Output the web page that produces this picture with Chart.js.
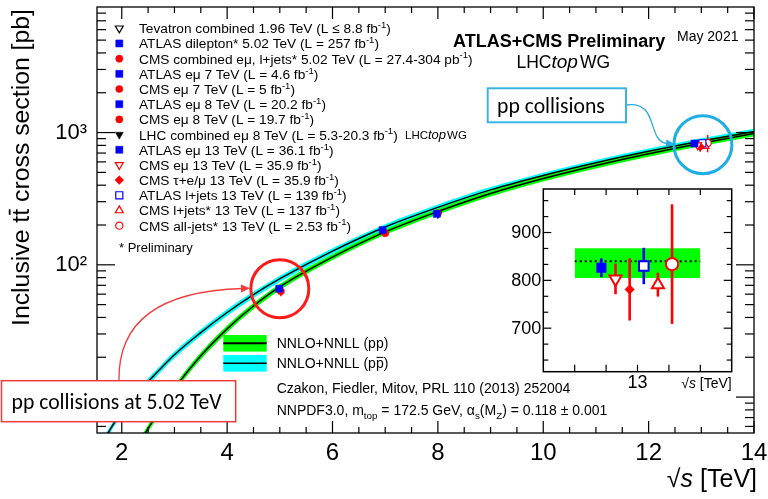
<!DOCTYPE html>
<html>
<head>
<meta charset="utf-8">
<title>Inclusive ttbar cross section</title>
<script src="https://cdn.jsdelivr.net/npm/chart.js@4.4.1/dist/chart.umd.min.js"></script>
<style>
  html, body { margin:0; padding:0; background:#ffffff; }
  #wrap { position:relative; width:768px; height:499px; overflow:hidden; background:#fff; }
  canvas { position:absolute; }
  #main { left:0; top:0; }
  #inset { left:500px; top:180px; }
</style>
</head>
<body>
<div id="wrap">
  <canvas id="main" width="768" height="499"></canvas>
  <canvas id="inset" width="260" height="215"></canvas>
</div>
<script>
// ===================== DATA =====================
const seriesLabels = [
  'Tevatron combined 1.96 TeV (L ≤ 8.8 fb^{-1})',
  'ATLAS dilepton* 5.02 TeV (L = 257 fb^{-1})',
  'CMS combined eμ, l+jets* 5.02 TeV (L = 27.4-304 pb^{-1})',
  'ATLAS eμ 7 TeV (L = 4.6 fb^{-1})',
  'CMS eμ 7 TeV (L = 5 fb^{-1})',
  'ATLAS eμ 8 TeV (L = 20.2 fb^{-1})',
  'CMS eμ 8 TeV (L = 19.7 fb^{-1})',
  'LHC combined eμ 8 TeV (L = 5.3-20.3 fb^{-1})',
  'ATLAS eμ 13 TeV (L = 36.1 fb^{-1})',
  'CMS eμ 13 TeV (L = 35.9 fb^{-1})',
  'CMS τ+e/μ 13 TeV (L = 35.9 fb^{-1})',
  'ATLAS l+jets 13 TeV (L = 139 fb^{-1})',
  'CMS l+jets* 13 TeV (L = 137 fb^{-1})',
  'CMS all-jets* 13 TeV (L = 2.53 fb^{-1})'
];
const energy  = [1.96, 5.02, 5.02, 7, 7, 8, 8, 8, 13, 13, 13, 13, 13, 13];
const xsec    = [7.60, 66.0, 63.0, 182.9, 173.6, 242.9, 244.9, 241.5, 826.4, 803, 781, 830, 791, 834];
const xsecErr = [0.41, 1.7, 5.1, 7.1, 6.4, 8.8, 9.3, 8.5, 19.6, 32, 65, 38, 25, 125];

// 13 TeV subset shown in the inset (indices into the arrays above)
const insetSeries = [8, 9, 10, 11, 12, 13];

// Theory NNLO+NNLL
const ppEnergy = [2.3, 2.6, 3.0, 3.5, 4.0, 4.5, 5.02, 6, 7, 8, 9, 10, 11, 12, 13, 14];
const ppXsec   = [4.3, 6.7, 11.6, 20.5, 32.8, 48.8, 68.9, 114.3, 177.3, 252.9, 346, 449, 564, 692, 831.8, 984.5];
const ppUncPct = [6, 6, 6, 6, 6, 5.5, 5.5, 5, 5, 5, 5, 5, 5, 5, 5, 5];
const ppbarEnergy = [1.55, 1.74, 1.96, 2.3, 2.6, 3.0, 3.5, 4.0, 4.5, 5.02, 6, 7, 8, 9, 10, 11, 12, 13, 14];
const ppbarXsec   = [3.9, 5.35, 7.35, 10.75, 14.4, 20.9, 30.75, 43.6, 59.5, 79.2, 126.9, 193.3, 271.9, 368.5, 473.7, 591, 721, 862.6, 1017];
const ppbarUncPct = [6, 6, 6, 6, 6, 6, 6, 6, 5.5, 5.5, 5, 5, 5, 5, 5, 5, 5, 5, 5];

// Theory band at 13 TeV in the inset
const theory13Central = 840;
const theory13Low = 805;
const theory13High = 867;
const theory13Range = [12.6, 13.4];

// Tick labels
const xTickValues = [2, 4, 6, 8, 10, 12, 14];
const yTickValues = [100, 1000];
const yTickLabels = ['10²', '10³'];
const insetYTickValues = [700, 800, 900];
const insetYTickLabels = ['700', '800', '900'];
const insetXTickValues = [13];
const insetXTickLabels = ['13'];

const theoryLabels = ['NNLO+NNLL (pp)', 'NNLO+NNLL (p~{p})'];
const theoryNotes = ['Czakon, Fiedler, Mitov, PRL 110 (2013) 252004',
                     'NNPDF3.0, m_{top} = 172.5 GeV, α_{s}(M_{Z}) = 0.118 ± 0.001'];

// ===================== STYLE / LAYOUT =====================
const FONT = "'Liberation Sans', Arial, Helvetica, sans-serif";
const BOXFONT = "Carlito, Lato, 'Open Sans', sans-serif";
const BLUE = '#0000ff', RED = '#ff0000', BLACK = '#000000';
const GREEN = '#00ff00', CYAN = '#00ffff';
const xMin = 1.53, xMax = 14, yMin = 5.35, yMax = 8900;
const displayShift = [0, -0.03, 0, -0.05, 0, -0.02, 0, 0, -0.13, -0.07, -0.02, 0.02, 0.07, 0.12];
const insetX = [12.77, 12.86, 12.95, 13.04, 13.13, 13.22];

const markerStyle = [
  {ps:'triangle', rot:180, fill:false, col:BLACK},
  {ps:'rect',     rot:0,   fill:true,  col:BLUE},
  {ps:'circle',   rot:0,   fill:true,  col:RED},
  {ps:'rect',     rot:0,   fill:true,  col:BLUE},
  {ps:'circle',   rot:0,   fill:true,  col:RED},
  {ps:'rect',     rot:0,   fill:true,  col:BLUE},
  {ps:'circle',   rot:0,   fill:true,  col:RED},
  {ps:'triangle', rot:180, fill:true,  col:BLACK},
  {ps:'rect',     rot:0,   fill:true,  col:BLUE},
  {ps:'triangle', rot:180, fill:false, col:RED},
  {ps:'rectRot',  rot:0,   fill:true,  col:RED},
  {ps:'rect',     rot:0,   fill:false, col:BLUE},
  {ps:'triangle', rot:0,   fill:false, col:RED},
  {ps:'circle',   rot:0,   fill:false, col:RED}
];
const smallRadius = {rect:5, circle:3.6, triangle:4.6, rectRot:4.4};
const insetRadius = {rect:6.8, circle:6.2, triangle:7, rectRot:4.8};

// ===================== HELPERS =====================
function drawRich(ctx, str, x, y, size, opts) {
  opts = opts || {};
  const family = opts.family || FONT;
  const weight = opts.weight || 'normal';
  const parts = str.split(/(\^\{[^}]*\}|_\{[^}]*\}|~\{[^}]*\}|#it\{[^}]*\})/);
  let cx = x;
  ctx.textBaseline = 'alphabetic';
  ctx.textAlign = 'left';
  for (const p of parts) {
    if (!p) continue;
    let s = size, dy = 0, t = p, style = 'normal', bar = false;
    if (p.startsWith('^{')) { t = p.slice(2, -1); s = size * 0.7; dy = -size * 0.38; }
    else if (p.startsWith('_{')) { t = p.slice(2, -1); s = size * 0.7; dy = size * 0.3; }
    else if (p.startsWith('~{')) { t = p.slice(2, -1); bar = true; }
    else if (p.startsWith('#it{')) { t = p.slice(4, -1); style = 'italic'; }
    ctx.font = style + ' ' + weight + ' ' + s + 'px ' + family;
    ctx.fillText(t, cx, y + dy);
    const w = ctx.measureText(t).width;
    if (bar) {
      ctx.save();
      ctx.strokeStyle = ctx.fillStyle;
      ctx.lineWidth = Math.max(1, size * 0.07);
      ctx.beginPath();
      ctx.moveTo(cx + size * 0.04, y - size * 0.78);
      ctx.lineTo(cx + w - size * 0.02, y - size * 0.78);
      ctx.stroke();
      ctx.restore();
    }
    cx += w;
  }
  return cx - x;
}

function drawMarker(ctx, st, r, x, y, lw) {
  ctx.save();
  ctx.fillStyle = st.fill ? st.col : '#ffffff';
  ctx.strokeStyle = st.col;
  ctx.lineWidth = lw;
  ctx.beginPath();
  if (st.ps === 'rect') {
    const h = r * Math.SQRT1_2;
    ctx.rect(x - h, y - h, 2 * h, 2 * h);
  } else if (st.ps === 'circle') {
    ctx.arc(x, y, r, 0, Math.PI * 2);
  } else if (st.ps === 'rectRot') {
    ctx.moveTo(x, y - r); ctx.lineTo(x + r, y); ctx.lineTo(x, y + r); ctx.lineTo(x - r, y); ctx.closePath();
  } else if (st.ps === 'triangle') {
    const sgn = st.rot === 180 ? -1 : 1;
    ctx.moveTo(x, y - sgn * r);
    ctx.lineTo(x + r * Math.sin(Math.PI * 2 / 3), y + sgn * r * 0.5);
    ctx.lineTo(x - r * Math.sin(Math.PI * 2 / 3), y + sgn * r * 0.5);
    ctx.closePath();
  }
  ctx.fill();
  ctx.stroke();
  ctx.restore();
}

function lineSeg(ctx, x1, y1, x2, y2) {
  ctx.beginPath(); ctx.moveTo(x1, y1); ctx.lineTo(x2, y2); ctx.stroke();
}

function sqrtS(ctx, xRight, baseline, size) {
  ctx.save();
  ctx.fillStyle = '#000';
  ctx.font = 'normal ' + size + 'px ' + FONT;
  const wRad = ctx.measureText('√').width;
  const wTail = ctx.measureText(' [TeV]').width;
  ctx.font = 'italic ' + size + 'px ' + FONT;
  const wS = ctx.measureText('s').width;
  const x0 = xRight - wRad - wS - wTail;
  ctx.textBaseline = 'alphabetic'; ctx.textAlign = 'left';
  ctx.font = 'normal ' + size + 'px ' + FONT;
  ctx.fillText('√', x0, baseline);
  ctx.font = 'italic ' + size + 'px ' + FONT;
  ctx.fillText('s', x0 + wRad, baseline);
  ctx.font = 'normal ' + size + 'px ' + FONT;
  ctx.fillText(' [TeV]', x0 + wRad + wS, baseline);
  ctx.restore();
}

function arrowHead(ctx, tipX, tipY, fromX, fromY, len, half) {
  const a = Math.atan2(tipY - fromY, tipX - fromX);
  ctx.beginPath();
  ctx.moveTo(tipX, tipY);
  ctx.lineTo(tipX - len * Math.cos(a) + half * Math.sin(a), tipY - len * Math.sin(a) - half * Math.cos(a));
  ctx.lineTo(tipX - len * Math.cos(a) - half * Math.sin(a), tipY - len * Math.sin(a) + half * Math.cos(a));
  ctx.closePath();
  ctx.fill();
}

// ===================== MAIN CHART =====================
const pointDatasets = seriesLabels.map((lab, i) => {
  const st = markerStyle[i];
  return {
    label: lab,
    data: [{x: energy[i] + displayShift[i], y: xsec[i]}],
    showLine: false,
    pointStyle: st.ps,
    pointRotation: st.rot,
    pointRadius: smallRadius[st.ps],
    pointBackgroundColor: st.fill ? st.col : '#ffffff',
    pointBorderColor: st.col,
    pointBorderWidth: st.fill ? 0.5 : 1.2,
    order: 0,
    errIndex: i
  };
});

const mk = (xs, ys, f) => xs.map((x, k) => ({x: x, y: f(ys[k], k)}));
const theoryDatasets = [
  {label:'ppbarUp', data: mk(ppbarEnergy, ppbarXsec, (v,k)=>v*(1+ppbarUncPct[k]/100)), fill:'+1',
   backgroundColor: CYAN, borderColor:'rgba(0,0,0,0)', borderWidth:0, pointRadius:0, cubicInterpolationMode:'monotone', order:14, clip:0},
  {label:'ppbarDown', data: mk(ppbarEnergy, ppbarXsec, (v,k)=>v*(1-ppbarUncPct[k]/100)), fill:false,
   borderColor:'rgba(0,0,0,0)', borderWidth:0, pointRadius:0, cubicInterpolationMode:'monotone', order:14, clip:0},
  {label:'ppUp', data: mk(ppEnergy, ppXsec, (v,k)=>v*(1+ppUncPct[k]/100)), fill:'+1',
   backgroundColor: GREEN, borderColor:'rgba(0,0,0,0)', borderWidth:0, pointRadius:0, cubicInterpolationMode:'monotone', order:13, clip:0},
  {label:'ppDown', data: mk(ppEnergy, ppXsec, (v,k)=>v*(1-ppUncPct[k]/100)), fill:false,
   borderColor:'rgba(0,0,0,0)', borderWidth:0, pointRadius:0, cubicInterpolationMode:'monotone', order:13, clip:0},
  {label:'ppbar', data: mk(ppbarEnergy, ppbarXsec, v=>v), fill:false,
   borderColor: BLACK, borderWidth:1.5, pointRadius:0, cubicInterpolationMode:'monotone', order:12, clip:0},
  {label:'pp', data: mk(ppEnergy, ppXsec, v=>v), fill:false,
   borderColor: BLACK, borderWidth:1.5, pointRadius:0, cubicInterpolationMode:'monotone', order:11, clip:0}
];

const mainDecor = {
  id: 'mainDecor',
  beforeDatasetDraw(chart, args) {
    const ds = chart.data.datasets[args.index];
    if (ds.errIndex === undefined) return;
    const i = ds.errIndex, xs = chart.scales.x, ys = chart.scales.y, ctx = chart.ctx, a = chart.chartArea;
    const px = xs.getPixelForValue(ds.data[0].x);
    ctx.save();
    ctx.beginPath(); ctx.rect(a.left, a.top, a.right - a.left, a.bottom - a.top); ctx.clip();
    ctx.strokeStyle = markerStyle[i].col; ctx.lineWidth = 1.4;
    lineSeg(ctx, px, ys.getPixelForValue(xsec[i] - xsecErr[i]), px, ys.getPixelForValue(xsec[i] + xsecErr[i]));
    ctx.restore();
  },
  afterDatasetsDraw(chart) {
    const ctx = chart.ctx, a = chart.chartArea, xs = chart.scales.x, ys = chart.scales.y;
    ctx.save();
    ctx.strokeStyle = '#000'; ctx.lineWidth = 1.3;
    ctx.strokeRect(a.left, a.top, a.right - a.left, a.bottom - a.top);
    ctx.lineWidth = 1.2;
    for (let v = 2; v <= 14.001; v += 0.5) {
      const px = xs.getPixelForValue(v);
      const len = (Math.abs(v % 2) < 1e-6) ? 12 : 6;
      lineSeg(ctx, px, a.bottom, px, a.bottom - len);
      lineSeg(ctx, px, a.top, px, a.top + len);
    }
    for (const d of [1, 10, 100, 1000]) {
      for (let k = 1; k <= 9; k++) {
        const v = k * d;
        if (v < yMin || v > yMax) continue;
        const py = ys.getPixelForValue(v);
        const len = k === 1 ? 18 : 9;
        lineSeg(ctx, a.left, py, a.left + len, py);
        lineSeg(ctx, a.right, py, a.right - len, py);
      }
    }
    ctx.restore();
  },
  afterDraw(chart) {
    const ctx = chart.ctx, xs = chart.scales.x, ys = chart.scales.y;
    ctx.save();
    ctx.fillStyle = '#000';
    // Axis titles
    ctx.save();
    ctx.translate(29, 326);
    ctx.rotate(-Math.PI / 2);
    drawRich(ctx, 'Inclusive t~{t} cross section [pb]', 0, 0, 24.8);
    ctx.restore();
    sqrtS(ctx, 757, 487, 25);

    // Data legend
    for (let i = 0; i < seriesLabels.length; i++) {
      const ry = 28.3 + 15.18 * i;
      const st = markerStyle[i];
      drawMarker(ctx, st, smallRadius[st.ps], 119.3, ry, st.fill ? 0.5 : 1.2);
      ctx.fillStyle = '#000';
      drawRich(ctx, seriesLabels[i], 139, ry + 5, 13.7);
    }
    const ryL = 28.3 + 15.18 * 7 + 4.5;
    let w = drawRich(ctx, 'LHC', 405, ryL, 11.5);
    w += drawRich(ctx, '#it{top}', 405 + w, ryL, 13);
    drawRich(ctx, 'WG', 405 + w + 1, ryL, 11.5);
    drawRich(ctx, '* Preliminary', 119, 251.5, 13);

    // Header
    drawRich(ctx, 'ATLAS+CMS Preliminary', 453, 46.5, 18, {weight:'bold'});
    drawRich(ctx, 'May 2021', 677, 41, 14);
    let w2 = drawRich(ctx, 'LHC', 516.5, 68, 17.5);
    w2 += drawRich(ctx, '#it{top}', 516.5 + w2, 68, 19);
    drawRich(ctx, 'WG', 516.5 + w2 + 2, 68, 17.5);

    // Theory legend
    const boxes = [[GREEN, 343.3], [CYAN, 363.3]];
    boxes.forEach((b, k) => {
      ctx.fillStyle = b[0];
      ctx.fillRect(223.3, b[1] - 8.3, 43.4, 16.6);
      ctx.strokeStyle = '#000'; ctx.lineWidth = k === 0 ? 2 : 1.5;
      lineSeg(ctx, 223.3, b[1], 266.7, b[1]);
      ctx.fillStyle = '#000';
      drawRich(ctx, theoryLabels[k], 276.7, b[1] + 5, 14);
    });
    drawRich(ctx, theoryNotes[0], 276.7, 393.3, 14);
    drawRich(ctx, theoryNotes[1], 276.7, 415, 14);

    // ---------- annotations ----------
    ctx.strokeStyle = '#ff1a1a'; ctx.lineWidth = 3;
    ctx.beginPath();
    ctx.arc(xs.getPixelForValue(5.0), ys.getPixelForValue(66), 29, 0, Math.PI * 2);
    ctx.stroke();
    ctx.strokeStyle = '#1eaee6'; ctx.lineWidth = 3;
    ctx.beginPath();
    ctx.arc(xs.getPixelForValue(13.03), ys.getPixelForValue(810), 29, 0, Math.PI * 2);
    ctx.stroke();

    // red connector + box
    ctx.strokeStyle = '#f03c3c'; ctx.fillStyle = '#f03c3c'; ctx.lineWidth = 1.3;
    ctx.beginPath(); ctx.moveTo(119, 381); ctx.quadraticCurveTo(117, 292, 243, 288.5); ctx.stroke();
    arrowHead(ctx, 250, 288.3, 230, 288.8, 9, 4);
    ctx.fillStyle = '#ffffff';
    ctx.fillRect(1.5, 380.7, 234.2, 41);
    ctx.strokeStyle = '#ee3b3b'; ctx.lineWidth = 1.5;
    ctx.strokeRect(1.5, 380.7, 234.2, 41);
    ctx.fillStyle = '#000';
    drawRich(ctx, 'pp collisions at 5.02 TeV', 11.5, 408.5, 21.7, {family: BOXFONT});

    // cyan connector + box
    ctx.strokeStyle = '#29abe2'; ctx.fillStyle = '#29abe2'; ctx.lineWidth = 1.3;
    ctx.beginPath(); ctx.moveTo(626, 105); ctx.bezierCurveTo(660, 100, 646, 141, 667, 143.5); ctx.stroke();
    arrowHead(ctx, 675, 144.5, 662, 143, 9, 4);
    ctx.fillStyle = '#ffffff';
    ctx.fillRect(487.7, 88.3, 138.3, 34);
    ctx.strokeStyle = '#3ab4e6'; ctx.lineWidth = 2;
    ctx.strokeRect(487.7, 88.3, 138.3, 34);
    ctx.fillStyle = '#000';
    drawRich(ctx, 'pp collisions', 497, 113, 21.7, {family: BOXFONT});
    ctx.restore();
  }
};

const mainChart = new Chart(document.getElementById('main'), {
  type: 'line',
  data: { datasets: pointDatasets.concat(theoryDatasets) },
  options: {
    responsive: false,
    animation: false,
    devicePixelRatio: 1,
    layout: { padding: { left: 0, right: 14, top: 7, bottom: 0 } },
    plugins: { legend: { display: false }, tooltip: { enabled: false } },
    scales: {
      x: {
        type: 'linear', min: xMin, max: xMax,
        grid: { display: false, drawTicks: false },
        border: { display: false },
        afterBuildTicks: s => { s.ticks = xTickValues.map(v => ({ value: v })); },
        ticks: { autoSkip: false, maxRotation: 0, color: '#000', padding: 6,
                 font: { family: FONT, size: 24 }, callback: v => String(v) },
        afterFit: s => { s.height = 66; s.paddingLeft = 0; s.paddingRight = 0; }
      },
      y: {
        type: 'logarithmic', min: yMin, max: yMax,
        grid: { display: false, drawTicks: false },
        border: { display: false },
        afterBuildTicks: s => { s.ticks = yTickValues.map(v => ({ value: v })); },
        ticks: { autoSkip: false, color: '#000', padding: 10,
                 font: { family: FONT, size: 22 },
                 callback: v => { const k = yTickValues.indexOf(v); return k >= 0 ? yTickLabels[k] : ''; } },
        afterFit: s => { s.width = 97; s.paddingTop = 0; s.paddingBottom = 0; }
      }
    }
  },
  plugins: [mainDecor]
});

// ===================== INSET CHART =====================
const insetPointDatasets = insetSeries.map((idx, j) => {
  const st = markerStyle[idx];
  return {
    label: seriesLabels[idx],
    data: [{ x: insetX[j], y: xsec[idx] }],
    showLine: false,
    pointStyle: st.ps,
    pointRotation: st.rot,
    pointRadius: insetRadius[st.ps],
    pointBackgroundColor: st.fill ? st.col : '#ffffff',
    pointBorderColor: st.col,
    pointBorderWidth: st.fill ? 0.5 : 2,
    order: 0,
    errIndex: idx
  };
});
const insetTheory = [
  { label:'bandHigh', data: theory13Range.map(x => ({x: x, y: theory13High})), fill:'+1', backgroundColor: GREEN,
    borderColor:'rgba(0,0,0,0)', borderWidth:0, pointRadius:0, order:5 },
  { label:'bandLow', data: theory13Range.map(x => ({x: x, y: theory13Low})), fill:false,
    borderColor:'rgba(0,0,0,0)', borderWidth:0, pointRadius:0, order:5 },
  { label:'central', data: theory13Range.map(x => ({x: x, y: theory13Central})), fill:false,
    borderColor: BLACK, borderWidth:2, borderDash:[2, 3], pointRadius:0, order:4 }
];

const insetDecor = {
  id: 'insetDecor',
  beforeDraw(chart) {
    const ctx = chart.ctx, a = chart.chartArea;
    ctx.save(); ctx.fillStyle = '#fff'; ctx.fillRect(a.left, a.top, a.right - a.left, a.bottom - a.top); ctx.restore();
  },
  beforeDatasetDraw(chart, args) {
    const ds = chart.data.datasets[args.index];
    if (ds.errIndex === undefined) return;
    const i = ds.errIndex, xs = chart.scales.x, ys = chart.scales.y, ctx = chart.ctx;
    const px = xs.getPixelForValue(ds.data[0].x);
    ctx.save();
    ctx.strokeStyle = markerStyle[i].col; ctx.lineWidth = 2.6;
    lineSeg(ctx, px, ys.getPixelForValue(xsec[i] - xsecErr[i]), px, ys.getPixelForValue(xsec[i] + xsecErr[i]));
    ctx.restore();
  },
  afterDraw(chart) {
    const ctx = chart.ctx, a = chart.chartArea, xs = chart.scales.x, ys = chart.scales.y;
    ctx.save();
    ctx.strokeStyle = '#000'; ctx.lineWidth = 1.5;
    ctx.strokeRect(a.left, a.top, a.right - a.left, a.bottom - a.top);
    ctx.lineWidth = 1.2;
    for (let k = 0; k <= 12; k++) {
      const v = 600 + k * 100 / 3;
      if (v < ys.min || v > ys.max) continue;
      const py = ys.getPixelForValue(v);
      const len = (k % 3 === 0) ? 8 : 5;
      lineSeg(ctx, a.left, py, a.left + len, py);
      lineSeg(ctx, a.right, py, a.right - len, py);
    }
    for (let v = 12.6; v <= 13.41; v += 0.2) {
      const px = xs.getPixelForValue(v);
      lineSeg(ctx, px, a.bottom, px, a.bottom - 7);
      lineSeg(ctx, px, a.top, px, a.top + 6);
    }
    ctx.fillStyle = '#000';
    ctx.font = 'normal 18px ' + FONT;
    ctx.textAlign = 'right'; ctx.textBaseline = 'middle';
    insetYTickValues.forEach((v, k) => ctx.fillText(insetYTickLabels[k], a.left - 2, ys.getPixelForValue(v) + 1));
    ctx.textAlign = 'center';
    insetXTickValues.forEach((v, k) => ctx.fillText(insetXTickLabels[k], xs.getPixelForValue(v), a.bottom + 11));
    sqrtS(ctx, a.right, a.bottom + 16, 14);
    ctx.restore();
  }
};

const insetChart = new Chart(document.getElementById('inset'), {
  type: 'line',
  data: { datasets: insetPointDatasets.concat(insetTheory) },
  options: {
    responsive: false,
    animation: false,
    devicePixelRatio: 1,
    layout: { padding: { left: 43.3, top: 8.3, right: 28.3, bottom: 23.3 } },
    plugins: { legend: { display: false }, tooltip: { enabled: false } },
    scales: {
      x: { type: 'linear', min: 12.4, max: 13.6, display: false },
      y: { type: 'linear', min: 609, max: 991, display: false }
    }
  },
  plugins: [insetDecor]
});
</script>
</body>
</html>
